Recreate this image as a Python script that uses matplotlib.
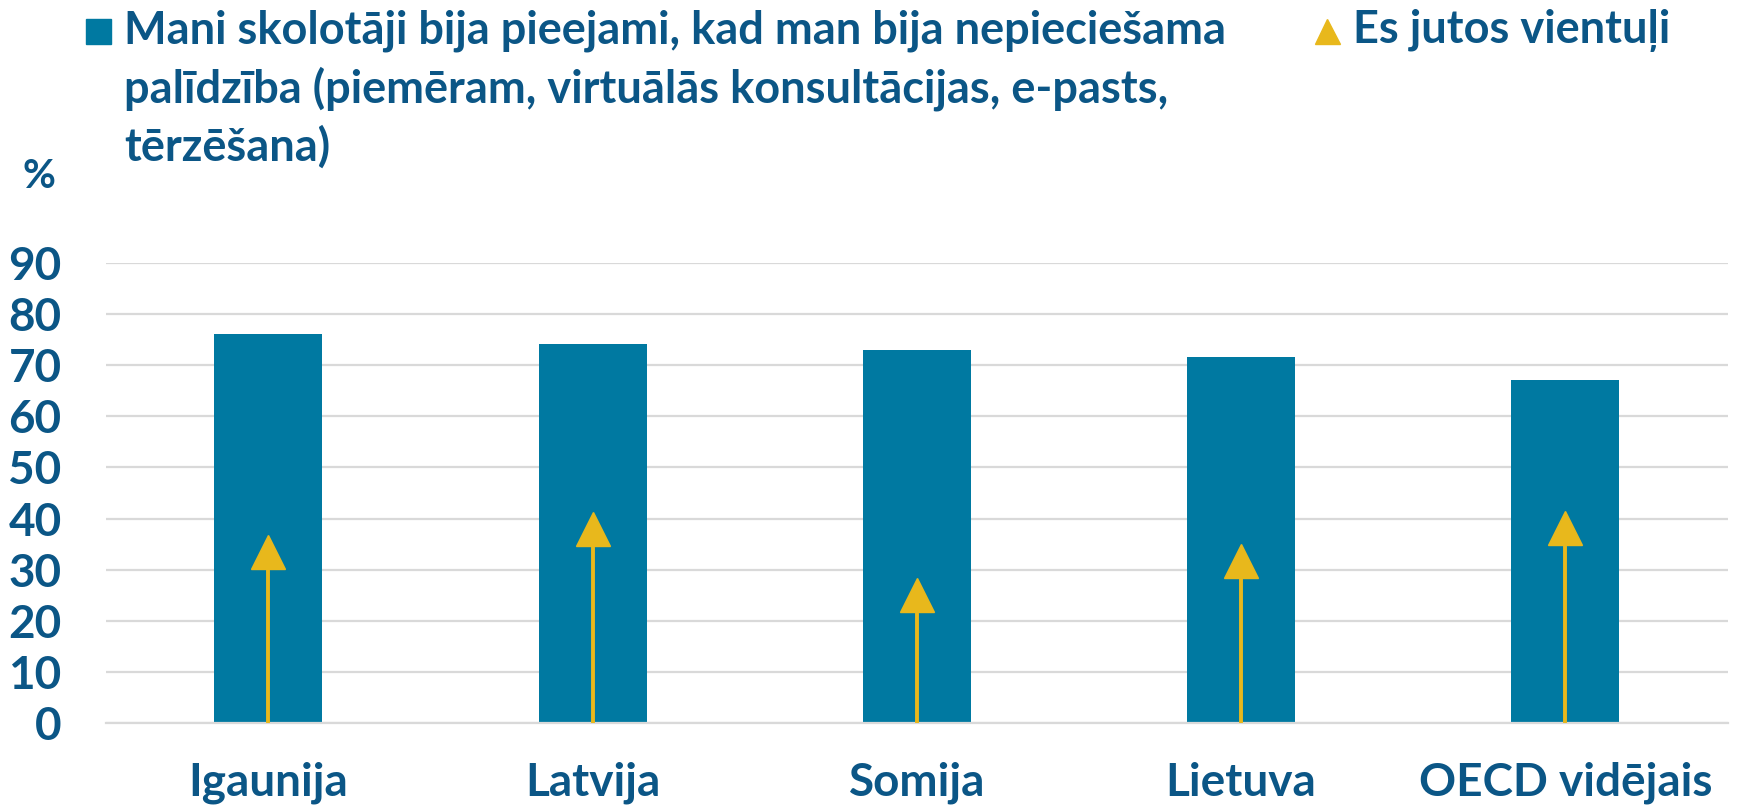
import matplotlib
matplotlib.use("Agg")
import matplotlib.pyplot as plt
from matplotlib.lines import Line2D

countries = ["Igaunija", "Latvija", "Somija", "Lietuva", "OECD vidējais"]
teachers = [76.2, 74.2, 73.1, 71.6, 67.1]
lonely = [33.5, 38.0, 25.1, 31.7, 38.2]
yticks = [0, 10, 20, 30, 40, 50, 60, 70, 80, 90]

label_teachers = ("Mani skolotāji bija pieejami, kad man bija nepieciešama\n"
                  "palīdzība (piemēram, virtuālās konsultācijas, e-pasts,\n"
                  "tērzēšana)")
label_lonely = "Es jutos vientuļi"

bar_color = "#0079A1"
tri_color = "#E8B81C"
text_color = "#0B5686"
grid_color = "#D9D9D9"

plt.rcParams["font.family"] = ["Lato", "DejaVu Sans"]
plt.rcParams["font.weight"] = "bold"

fig = plt.figure(figsize=(17.39, 8.09), dpi=100)
ax = fig.add_axes([0.061, 0.1067, 0.9324, 0.5678])

x = list(range(len(countries)))
ax.bar(x, teachers, width=0.333, color=bar_color, zorder=2)
ax.vlines(x, 0, lonely, color=tri_color, linewidth=2.8, zorder=3)
ax.plot(x, lonely, linestyle="none", marker="^", markersize=25,
        color=tri_color, zorder=4)

ax.set_xlim(-0.5, len(countries) - 0.5)
ax.set_ylim(0, 90)
ax.set_yticks(yticks)
ax.set_xticks(x)
ax.set_xticklabels(countries)
ax.yaxis.grid(True, color=grid_color, linewidth=1.6, zorder=0)
ax.set_axisbelow(True)
for s in ax.spines.values():
    s.set_visible(False)
ax.spines["bottom"].set_visible(True)
ax.spines["bottom"].set_color(grid_color)
ax.spines["bottom"].set_linewidth(1.6)
ax.tick_params(length=0, labelcolor=text_color, labelsize=33)
ax.tick_params(axis="x", pad=28)
ax.tick_params(axis="y", pad=32)

# legend drawn by hand so the marker lines up with the first text line
fig.add_artist(Line2D([98 / 1739], [1 - 31 / 809], marker="s", markersize=18,
                      color=bar_color, linestyle="none",
                      transform=fig.transFigure))
fig.text(124 / 1739, 1 - 9 / 809, label_teachers, color=text_color,
         fontsize=32.5, fontweight="bold", va="top", ha="left", linespacing=1.4)
fig.add_artist(Line2D([1327 / 1739], [1 - 31 / 809], marker="^", markersize=18,
                      color=tri_color, linestyle="none",
                      transform=fig.transFigure))
fig.text(1353 / 1739, 1 - 9 / 809, label_lonely, color=text_color,
         fontsize=32.5, fontweight="bold", va="top", ha="left")

fig.text(39 / 1739, 1 - 177 / 809, "%", color=text_color, fontsize=29,
         fontweight="bold", va="center", ha="center")

fig.savefig("out.png", dpi=100)
